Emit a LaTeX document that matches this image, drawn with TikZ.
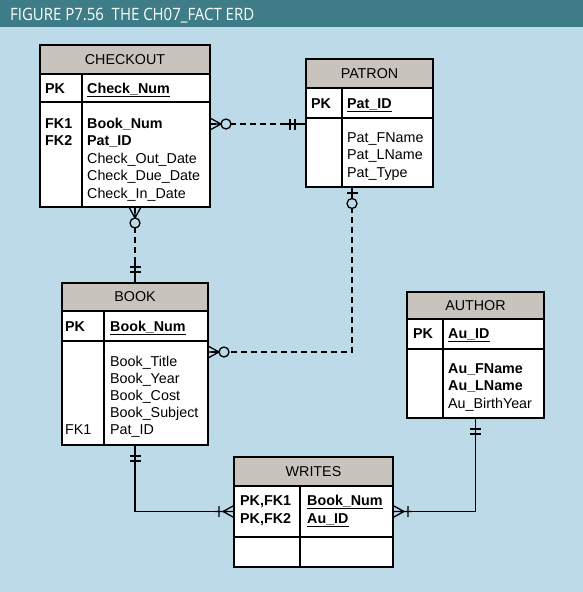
\documentclass[tikz,border=0pt]{standalone}
\usepackage{fontspec}
\setmainfont{Liberation Sans}
\newfontfamily\titlefont[FakeStretch=0.88]{Open Sans}
\usepackage{tikz}

\definecolor{bgblue}{RGB}{189,218,232}
\definecolor{barteal}{RGB}{62,125,136}
\definecolor{hdrgray}{RGB}{200,196,189}

\tikzstyle{tbl} = [draw,line width=1.5pt,anchor=north west,inner sep=0pt,outer sep=0pt]
\tikzstyle{tblhead} = [tbl,fill=hdrgray]
\tikzstyle{tblrow} = [tbl,fill=white]
\tikzstyle{colline} = [line width=1.5pt]
\tikzstyle{txt} = [anchor=base west,inner sep=0pt]
\tikzstyle{rel} = [line width=1.3pt]
\tikzstyle{opt} = [rel,dash pattern=on 6pt off 4pt]

% crow's foot marks, drawn at a table edge, pointing away from it
\newcommand{\zeroMany}[2]{%
  \begin{scope}[shift={(#1)},rotate=#2]
    \draw[rel] (0,-6) -- (11,0) -- (0,6) (0,0) -- (11,0);
    \draw[rel,fill=bgblue] (16,0) circle (5pt);
  \end{scope}}
\newcommand{\zeroOne}[2]{%
  \begin{scope}[shift={(#1)},rotate=#2]
    \draw[rel] (0,0) -- (11,0) (6,-5.5) -- (6,5.5);
    \draw[rel,fill=bgblue] (16.5,0) circle (5pt);
  \end{scope}}
\newcommand{\oneOnly}[2]{%
  \begin{scope}[shift={(#1)},rotate=#2]
    \draw[rel] (0,0) -- (20,0) (11,-5.5) -- (11,5.5) (16,-5.5) -- (16,5.5);
  \end{scope}}
\newcommand{\oneMany}[2]{%
  \begin{scope}[shift={(#1)},rotate=#2]
    \draw[rel] (0,-6) -- (11,0) -- (0,6) (0,0) -- (19,0) (15,-5.5) -- (15,5.5);
  \end{scope}}

\begin{document}
\begin{tikzpicture}[x=1pt,y=-1pt,font=\fontsize{14.3}{17}\selectfont]
  \useasboundingbox (0,0) rectangle (583,592);
  \fill[bgblue] (0,0) rectangle (583,592);
  \fill[barteal] (0,0) rectangle (583,27);
  \node[txt,text=white,font=\titlefont\fontsize{17}{20}\selectfont] (title) at (10,20)
    {FIGURE P7.56\ \ THE CH07\_FACT ERD};

  % CHECKOUT
  \node[tblhead,minimum width=170pt,minimum height=29pt] (cohead) at (40,45) {CHECKOUT};
  \node[tblrow,minimum width=170pt,minimum height=28pt] (cokey) at (cohead.south west) {};
  \node[tblrow,minimum width=170pt,minimum height=105pt] (cobody) at (cokey.south west) {};
  \draw[colline] (82,74) -- (82,207);
  \node[txt] at (45,93) {\textbf{PK}};
  \node[txt] at (87,93) {\textbf{\underline{Check\_Num}}};
  \node[txt] at (45,128) {\textbf{FK1}};
  \node[txt] at (45,145.5) {\textbf{FK2}};
  \foreach \a [count=\i from 0] in {\textbf{Book\_Num},\textbf{Pat\_ID},Check\_Out\_Date,Check\_Due\_Date,Check\_In\_Date}
    \node[txt] at (87,{128+17.5*\i}) {\a};

  % PATRON
  \node[tblhead,minimum width=127pt,minimum height=29pt] (pahead) at (306,59) {PATRON};
  \node[tblrow,minimum width=127pt,minimum height=30pt] (pakey) at (pahead.south west) {};
  \node[tblrow,minimum width=127pt,minimum height=69pt] (pabody) at (pakey.south west) {};
  \draw[colline] (342,88) -- (342,187);
  \node[txt] at (311,108) {\textbf{PK}};
  \node[txt] at (347,108) {\textbf{\underline{Pat\_ID}}};
  \foreach \a [count=\i from 0] in {Pat\_FName,Pat\_LName,Pat\_Type}
    \node[txt] at (347,{142+17.5*\i}) {\a};

  % BOOK
  \node[tblhead,minimum width=146pt,minimum height=28pt] (bkhead) at (62,283) {BOOK};
  \node[tblrow,minimum width=146pt,minimum height=30pt] (bkkey) at (bkhead.south west) {};
  \node[tblrow,minimum width=146pt,minimum height=104pt] (bkbody) at (bkkey.south west) {};
  \draw[colline] (104,311) -- (104,445);
  \node[txt] at (65,331) {\textbf{PK}};
  \node[txt] at (110,331) {\textbf{\underline{Book\_Num}}};
  \node[txt] at (65,434) {FK1};
  \foreach \a [count=\i from 0] in {Book\_Title,Book\_Year,Book\_Cost,Book\_Subject,Pat\_ID}
    \node[txt] at (110,{366+17*\i}) {\a};

  % AUTHOR
  \node[tblhead,minimum width=137pt,minimum height=27pt] (auhead) at (407,292) {AUTHOR};
  \node[tblrow,minimum width=137pt,minimum height=30pt] (aukey) at (auhead.south west) {};
  \node[tblrow,minimum width=137pt,minimum height=69pt] (aubody) at (aukey.south west) {};
  \draw[colline] (443,319) -- (443,418);
  \node[txt] at (413,338) {\textbf{PK}};
  \node[txt] at (448,338) {\textbf{\underline{Au\_ID}}};
  \foreach \a [count=\i from 0] in {\textbf{Au\_FName},\textbf{Au\_LName},Au\_BirthYear}
    \node[txt] at (448,{373+17.5*\i}) {\a};

  % WRITES
  \node[tblhead,minimum width=159pt,minimum height=29pt] (wrhead) at (234,457) {WRITES};
  \node[tblrow,minimum width=159pt,minimum height=51pt] (wrkey) at (wrhead.south west) {};
  \node[tblrow,minimum width=159pt,minimum height=30pt] (wrbody) at (wrkey.south west) {};
  \draw[colline] (300,486) -- (300,567);
  \node[txt] at (240,505) {\textbf{PK,FK1}};
  \node[txt] at (240,523) {\textbf{PK,FK2}};
  \node[txt] at (307,505) {\textbf{\underline{Book\_Num}}};
  \node[txt] at (307,523) {\textbf{\underline{Au\_ID}}};

  % connector ends on the table edges
  \coordinate (coPa) at (cobody.east |- 0,124);
  \coordinate (paCo) at (pabody.west |- 0,124);
  \coordinate (coBk) at (bkhead.north |- cobody.south);
  \coordinate (bkCo) at (bkhead.north);
  \coordinate (paBk) at (352,187);
  \coordinate (bkPa) at (bkbody.east |- 0,352);
  \coordinate (bkWr) at (bkbody.south);
  \coordinate (wrBk) at (wrkey.west);
  \coordinate (auWr) at (aubody.south);
  \coordinate (wrAu) at (wrkey.east);

  \draw[opt] (coPa) -- (paCo);
  \draw[opt] (coBk) -- (bkCo);
  \draw[opt] (paBk) |- (bkPa);
  \draw[rel] (bkWr) |- (wrBk);
  \draw[rel] (auWr) |- (wrAu);

  \zeroMany{coPa}{0}
  \oneOnly{paCo}{180}
  \zeroMany{coBk}{-90}
  \oneOnly{bkCo}{90}
  \zeroOne{paBk}{-90}
  \zeroMany{bkPa}{0}
  \oneOnly{bkWr}{-90}
  \oneMany{wrBk}{180}
  \oneOnly{auWr}{-90}
  \oneMany{wrAu}{0}
\end{tikzpicture}
\end{document}
